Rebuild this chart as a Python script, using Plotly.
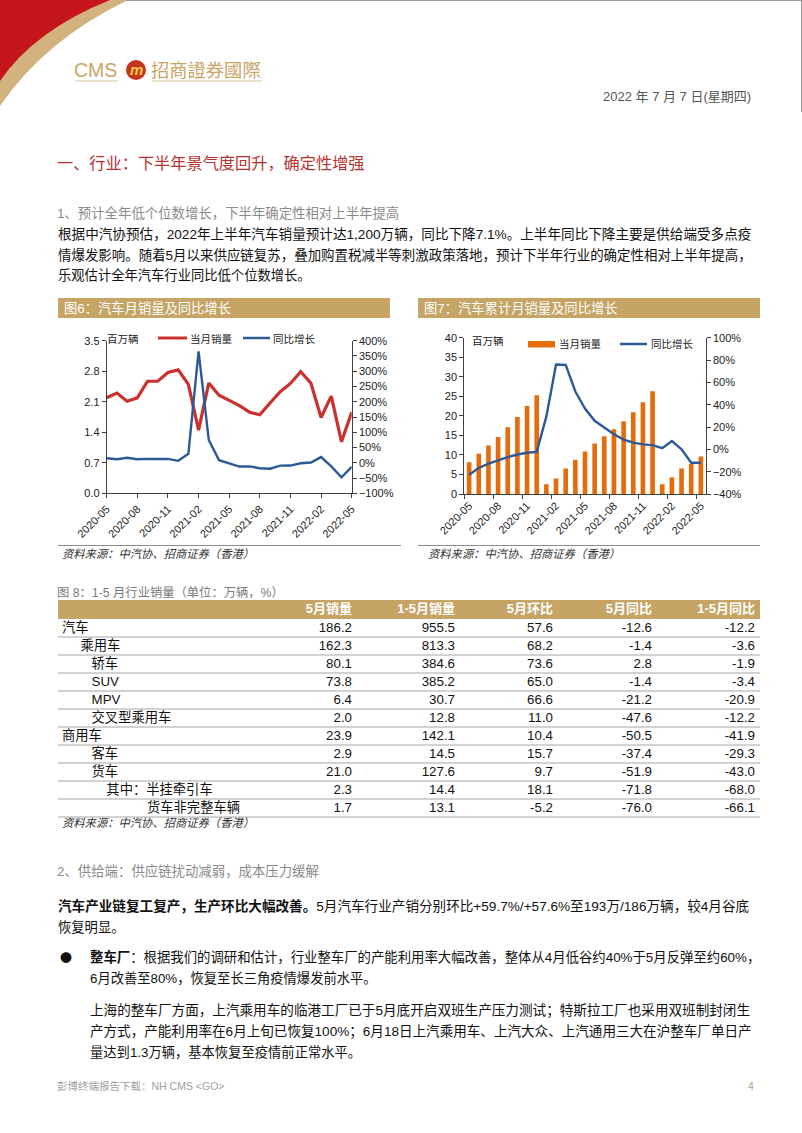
import plotly.graph_objects as go

W, H = 802, 1133

# ---------------- data ----------------
months = ['2020-05', '2020-06', '2020-07', '2020-08', '2020-09', '2020-10', '2020-11', '2020-12',
          '2021-01', '2021-02', '2021-03', '2021-04', '2021-05', '2021-06', '2021-07', '2021-08',
          '2021-09', '2021-10', '2021-11', '2021-12', '2022-01', '2022-02', '2022-03', '2022-04', '2022-05']
month_ticks = ['2020-05', '2020-08', '2020-11', '2021-02', '2021-05', '2021-08', '2021-11', '2022-02', '2022-05']

monthly_sales = [2.19, 2.30, 2.11, 2.19, 2.57, 2.57, 2.77, 2.83, 2.50, 1.45, 2.53, 2.25, 2.13,
                 2.01, 1.86, 1.80, 2.07, 2.33, 2.52, 2.79, 2.53, 1.74, 2.23, 1.18, 1.86]
monthly_yoy = [15.0, 11.6, 16.4, 11.6, 12.8, 12.5, 12.6, 6.4, 29.5, 365.0, 74.9, 8.6, -3.1,
               -12.4, -11.9, -18.1, -19.6, -9.4, -9.1, -1.6, 0.9, 18.7, -11.7, -47.6, -13.0]

cum_sales = [8.1, 10.3, 12.4, 14.6, 17.1, 19.7, 22.5, 25.3, 2.5, 3.95, 6.5, 8.7, 10.9,
             12.9, 14.8, 16.6, 18.6, 20.95, 23.5, 26.3, 2.5, 4.3, 6.5, 7.7, 9.6]
cum_yoy = [-22.7, -16.7, -12.8, -9.7, -7.0, -4.6, -3.1, -2.3, 29.5, 76.0, 75.6, 51.8, 36.6,
           25.6, 19.5, 13.5, 8.7, 6.0, 4.4, 3.8, 1.0, 7.5, 0.0, -12.0, -12.0]

table_headers = ['', '5月销量', '1-5月销量', '5月环比', '5月同比', '1-5月同比']
row_labels = ['汽车', '乘用车', '轿车', 'SUV', 'MPV', '交叉型乘用车', '商用车', '客车', '货车',
              '其中：半挂牵引车', '货车非完整车辆']
may_sales = [186.2, 162.3, 80.1, 73.8, 6.4, 2.0, 23.9, 2.9, 21.0, 2.3, 1.7]
ytd_sales = [955.5, 813.3, 384.6, 385.2, 30.7, 12.8, 142.1, 14.5, 127.6, 14.4, 13.1]
may_mom = [57.6, 68.2, 73.6, 65.0, 66.6, 11.0, 10.4, 15.7, 9.7, 18.1, -5.2]
may_yoy = [-12.6, -1.4, 2.8, -1.4, -21.2, -47.6, -50.5, -37.4, -51.9, -71.8, -76.0]
ytd_yoy = [-12.2, -3.6, -1.9, -3.4, -20.9, -12.2, -41.9, -29.3, -43.0, -68.0, -66.1]

# ---------------- style ----------------
FONT = 'Liberation Sans, Arial, Noto Sans CJK SC'
NARROW = 'Liberation Sans Narrow, Liberation Sans, Noto Sans CJK SC'
CJK = 'Noto Sans CJK SC'
GOLD = '#C5A465'
RED = '#C8312E'
BLUE = '#2D5A96'
ORANGE = '#E46C0A'
AXC = '#404040'
label_indent = [0, 5, 8, 8, 8, 8, 0, 8, 8, 12, 23]

LATIN_EM = {'.': 0.278, ',': 0.278, '%': 0.889, '+': 0.584, '/': 0.278, ' ': 0.278, '-': 0.333}


def em_width(s):
    import re
    s = re.sub(r'<[^>]+>', '', s)
    w = 0.0
    for ch in s:
        if ord(ch) > 0x2E80:
            w += 1.0
        elif ch.isdigit():
            w += 0.556
        else:
            w += LATIN_EM.get(ch, 0.6)
    return w


def fit(s, width, maxsize=13.6):
    return min(maxsize, width / em_width(s))


def px(x):
    return x / W


def py(y):
    return 1 - y / H


annotations = []
shapes = []


def txt(x, y, s, size=13.3, color='#111', anchor='left', family=FONT, **kw):
    annotations.append(dict(x=px(x), y=py(y), xref='paper', yref='paper', text=s, showarrow=False,
                            xanchor=anchor, yanchor='middle', borderpad=0, borderwidth=0,
                            font=dict(size=size, color=color, family=family), **kw))


def body(x, y, s, right=752):
    txt(x, y, s, size=fit(s, right - x))


def line(x0, y0, x1, y1, color='#999', width=1):
    shapes.append(dict(type='line', xref='paper', yref='paper', x0=px(x0), y0=py(y0), x1=px(x1), y1=py(y1),
                       line=dict(color=color, width=width)))


def rect(x0, y0, x1, y1, color):
    shapes.append(dict(type='rect', xref='paper', yref='paper', x0=px(x0), y0=py(y0), x1=px(x1), y1=py(y1),
                       fillcolor=color, line=dict(width=0), layer='below'))


def path(d, color):
    shapes.append(dict(type='path', xref='paper', yref='paper', path=d, fillcolor=color,
                       line=dict(width=0), layer='below'))


def P(x, y):
    return f'{px(x):.5f},{py(y):.5f}'


# ---------------- page header ----------------
path(f'M {P(0,0)} L {P(128,0)} Q {P(45,40)} {P(0,106)} Z', '#D2B27E')
path(f'M {P(0,0)} L {P(110,0)} Q {P(35,30)} {P(0,81)} Z', '#C4161C')
line(126, 0.5, 802, 0.5, '#9a9a9a', 1)
line(801.5, 0, 801.5, 112, '#9a9a9a', 1)

txt(74, 70, 'CMS', size=19.5, color='#C9A464', family=FONT)
shapes.append(dict(type='circle', xref='paper', yref='paper', x0=px(126), y0=py(60), x1=px(146), y1=py(80),
                   fillcolor='#C3361C', line=dict(width=0)))
txt(136, 69, '<b><i>m</i></b>', size=15, color='#F6C94A', anchor='center')
txt(151, 69, '招商證券國際', size=18.3, color='#C9A464', family='Noto Sans CJK TC')
line(75, 81, 118, 81, '#D9C39A', 1)
line(152, 81, 262, 81, '#D9C39A', 1)
txt(751, 97, '2022 年 7 月 7 日(星期四)', size=13, color='#555', anchor='right')

# ---------------- section 1 text ----------------
txt(57, 163, '一、行业：下半年景气度回升，确定性增强', size=16.2, color='#B8312F')
txt(57, 213, '1、预计全年低个位数增长，下半年确定性相对上半年提高', size=13.4, color='#8a8a8a')
body(58, 234, '根据中汽协预估，2022年上半年汽车销量预计达1,200万辆，同比下降7.1%。上半年同比下降主要是供给端受多点疫')
body(58, 255, '情爆发影响。随着5月以来供应链复苏，叠加购置税减半等刺激政策落地，预计下半年行业的确定性相对上半年提高，')
txt(58, 275, '乐观估计全年汽车行业同比低个位数增长。', size=13.3)

# ---------------- chart headers ----------------
rect(58, 298, 390, 318, GOLD)
rect(418, 298, 760, 318, GOLD)
txt(64, 308, '图6：汽车月销量及同比增长', size=13.3, color='white')
txt(424, 308, '图7：汽车累计月销量及同比增长', size=13.3, color='white')

# legends chart 1
txt(107, 338, '百万辆', size=10.5, color='#222', family=CJK)
line(158, 338, 187, 338, RED, 3)
txt(190, 338, '当月销量', size=10.5, color='#222', family=CJK)
line(243, 338, 270, 338, BLUE, 2.5)
txt(273, 338, '同比增长', size=10.5, color='#222', family=CJK)
# legends chart 2
txt(472, 340, '百万辆', size=10.5, color='#222', family=CJK)
shapes.append(dict(type='rect', xref='paper', yref='paper', x0=px(528), y0=py(347.5), x1=px(555), y1=py(341),
                   fillcolor=ORANGE, line=dict(width=0)))
txt(559, 344, '当月销量', size=10.5, color='#222', family=CJK)
line(620, 344, 647, 344, BLUE, 2.5)
txt(651, 344, '同比增长', size=10.5, color='#222', family=CJK)

line(58, 545.5, 401, 545.5, '#8c8c8c', 1)
line(418, 545.5, 760, 545.5, '#8c8c8c', 1)
txt(62, 553, '<i>资料来源：中汽协、招商证券（香港）</i>', size=11.3, color='#333', family=CJK)
txt(428, 553, '<i>资料来源：中汽协、招商证券（香港）</i>', size=11.3, color='#333', family=CJK)

# ---------------- table ----------------
txt(57, 592, '图 8：1-5 月行业销量（单位：万辆，%）', size=12.3, color='#7a7a7a')
HDR_TOP, HDR_H, ROW_H = 600, 19, 18
TEXT_SHIFT = 5
n_rows = len(row_labels)
rect(58, HDR_TOP, 760, HDR_TOP + HDR_H, GOLD)
for k in range(1, n_rows + 1):
    yy = HDR_TOP + HDR_H + ROW_H * k
    line(58, yy, 760, yy, '#a6a6a6', 1)
txt(62, 822, '<i>资料来源：中汽协、招商证券（香港）</i>', size=11.3, color='#333', family=CJK)

shown_labels = ['\u00a0' * n + lab for n, lab in zip(label_indent, row_labels)]

table = go.Table(
    domain=dict(x=[px(54), px(763)], y=[py(840), py(HDR_TOP - TEXT_SHIFT)]),
    columnwidth=[210, 96, 103, 98, 99, 103],
    header=dict(values=table_headers, fill_color='rgba(0,0,0,0)',
                font=dict(color='white', size=13, family=FONT, weight='bold'),
                align=['left'] + ['right'] * 5, height=HDR_H, line=dict(width=0)),
    cells=dict(values=[shown_labels, may_sales, ytd_sales, may_mom, may_yoy, ytd_yoy],
               format=[None, '.1f', '.1f', '.1f', '.1f', '.1f'],
               fill_color='rgba(0,0,0,0)',
               font=dict(color='#111', size=13.3, family=[FONT, NARROW, NARROW, NARROW, NARROW, NARROW]),
               align=['left'] + ['right'] * 5, height=ROW_H, line=dict(width=0)),
)

# ---------------- section 2 text ----------------
txt(57, 871, '2、供给端：供应链扰动减弱，成本压力缓解', size=13.4, color='#8a8a8a')
body(58, 906, '<b>汽车产业链复工复产，生产环比大幅改善。</b>5月汽车行业产销分别环比+59.7%/+57.6%至193万/186万辆，较4月谷底')
txt(58, 927, '恢复明显。', size=13.3)
txt(60, 957, '●', size=12, color='#111', family=CJK)
body(90, 957, '<b>整车厂</b>：根据我们的调研和估计，行业整车厂的产能利用率大幅改善，整体从4月低谷约40%于5月反弹至约60%，', right=761)
txt(90, 978, '6月改善至80%，恢复至长三角疫情爆发前水平。', size=13.3)
body(90, 1010, '上海的整车厂方面，上汽乘用车的临港工厂已于5月底开启双班生产压力测试；特斯拉工厂也采用双班制封闭生')
body(90, 1031, '产方式，产能利用率在6月上旬已恢复100%；6月18日上汽乘用车、上汽大众、上汽通用三大在沪整车厂单日产')
txt(90, 1052, '量达到1.3万辆，基本恢复至疫情前正常水平。', size=13.3)

txt(57, 1086, '彭博终端报告下载：NH CMS &lt;GO&gt;', size=10.5, color='#a0a0a0')
txt(754, 1086, '4', size=10.5, color='#a0a0a0', anchor='right')

# ---------------- figure ----------------
fig = go.Figure()
fig.add_trace(go.Scatter(x=months, y=monthly_sales, xaxis='x', yaxis='y', mode='lines',
                         line=dict(color=RED, width=3.2), name='当月销量'))
fig.add_trace(go.Scatter(x=months, y=monthly_yoy, xaxis='x', yaxis='y2', mode='lines',
                         line=dict(color=BLUE, width=2.4), name='同比增长'))
fig.add_trace(go.Bar(x=months, y=cum_sales, xaxis='x2', yaxis='y3', marker=dict(color=ORANGE, line=dict(width=0)),
                     name='当月销量'))
fig.add_trace(go.Scatter(x=months, y=cum_yoy, xaxis='x2', yaxis='y4', mode='lines',
                         line=dict(color=BLUE, width=2.4), name='同比增长'))
fig.add_trace(table)

tickfont = dict(family=FONT, size=11, color='#222')
axcommon = dict(showline=True, linecolor=AXC, linewidth=1, ticks='outside', ticklen=4, tickcolor=AXC,
                showgrid=False, zeroline=False, tickfont=tickfont, fixedrange=True, automargin=False)

fig.update_layout(
    width=W, height=H, margin=dict(l=0, r=0, t=0, b=0, pad=0), autosize=False,
    paper_bgcolor='white', plot_bgcolor='rgba(0,0,0,0)', showlegend=False,
    bargap=0.52,
    xaxis=dict(domain=[px(106.7), px(351.7)], anchor='y', type='category', range=[0, 24],
               tickmode='array', tickvals=month_ticks, ticktext=month_ticks, tickangle=-45, **axcommon),
    yaxis=dict(domain=[py(493.3), py(340.7)], anchor='x', range=[0, 3.5], dtick=0.7, tick0=0,
               tickformat='.1f', **axcommon),
    yaxis2=dict(overlaying='y', side='right', anchor='x', range=[-100, 400], dtick=50, tick0=0,
                ticksuffix='%', **axcommon),
    xaxis2=dict(domain=[px(464.3), px(705.7)], anchor='y3', type='category', range=[-0.5, 24.5],
                tickmode='array', tickvals=month_ticks, ticktext=month_ticks, tickangle=-45,
                tickson='boundaries', **axcommon),
    yaxis3=dict(domain=[py(494), py(337.7)], anchor='x2', range=[0, 40], dtick=5, tick0=0, **axcommon),
    yaxis4=dict(overlaying='y3', side='right', anchor='x2', range=[-40, 100], dtick=20, tick0=0,
                ticksuffix='%', **axcommon),
    annotations=annotations,
    shapes=shapes,
)

fig.write_html('out.html', config={'responsive': False, 'displayModeBar': False},
               post_script="document.body.style.margin='0px';document.body.style.padding='0px';")
